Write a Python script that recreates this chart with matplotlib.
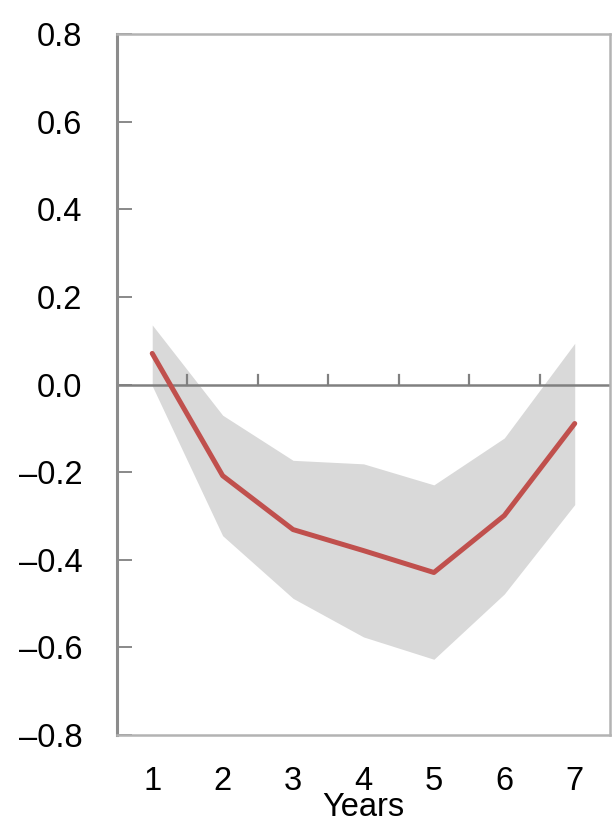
import numpy as np
import matplotlib.pyplot as plt
from matplotlib import font_manager

years = [1, 2, 3, 4, 5, 6, 7]
estimate = [0.071, -0.208, -0.331, -0.379, -0.429, -0.299, -0.089]
upper = [0.136, -0.070, -0.173, -0.181, -0.229, -0.122, 0.094]
lower = [-0.003, -0.345, -0.488, -0.576, -0.627, -0.478, -0.274]
yticks = [-0.8, -0.6, -0.4, -0.2, 0.0, 0.2, 0.4, 0.6, 0.8]
half_ticks = [1.5, 2.5, 3.5, 4.5, 5.5, 6.5]

names = {f.name for f in font_manager.fontManager.ttflist}
narrow = "Liberation Sans Narrow" in names
family = "Liberation Sans Narrow" if narrow else "Liberation Sans"
plt.rcParams["font.family"] = [family, "DejaVu Sans"]
fs = 27 if narrow else 23.5

fig = plt.figure(figsize=(6.13, 8.25), dpi=100)
ax = fig.add_axes([0.1909, 0.109, 0.8041, 0.8498])

ax.fill_between(years, lower, upper, color="#d9d9d9", linewidth=0, zorder=1)
ax.plot(years, estimate, color="#c0504d", linewidth=3.6, zorder=3,
        solid_capstyle="round")
ax.axhline(0, color="#808080", linewidth=1.8, zorder=2)
for x in half_ticks:
    ax.plot([x, x], [0, 0.022], color="#808080", linewidth=1.6, zorder=2)

ax.set_xlim(0.5, 7.5)
ax.set_ylim(-0.8, 0.8)
ax.set_xticks(years)
ax.set_yticks(yticks)
ax.set_yticklabels([f"{v:.1f}".replace("-", "\u2013") for v in yticks])

ax.tick_params(axis="y", direction="in", length=11, width=1.3, color="#808080",
               labelsize=fs, pad=25)
ax.tick_params(axis="x", length=0, labelsize=fs, pad=22)
ax.set_xlabel("Years", fontsize=fs, labelpad=-3)

for side in ["top", "right", "bottom"]:
    ax.spines[side].set_color("#b3b3b3")
    ax.spines[side].set_linewidth(1.8)
ax.spines["left"].set_color("#8c8c8c")
ax.spines["left"].set_linewidth(2.2)

fig.savefig("out.png", dpi=100)
